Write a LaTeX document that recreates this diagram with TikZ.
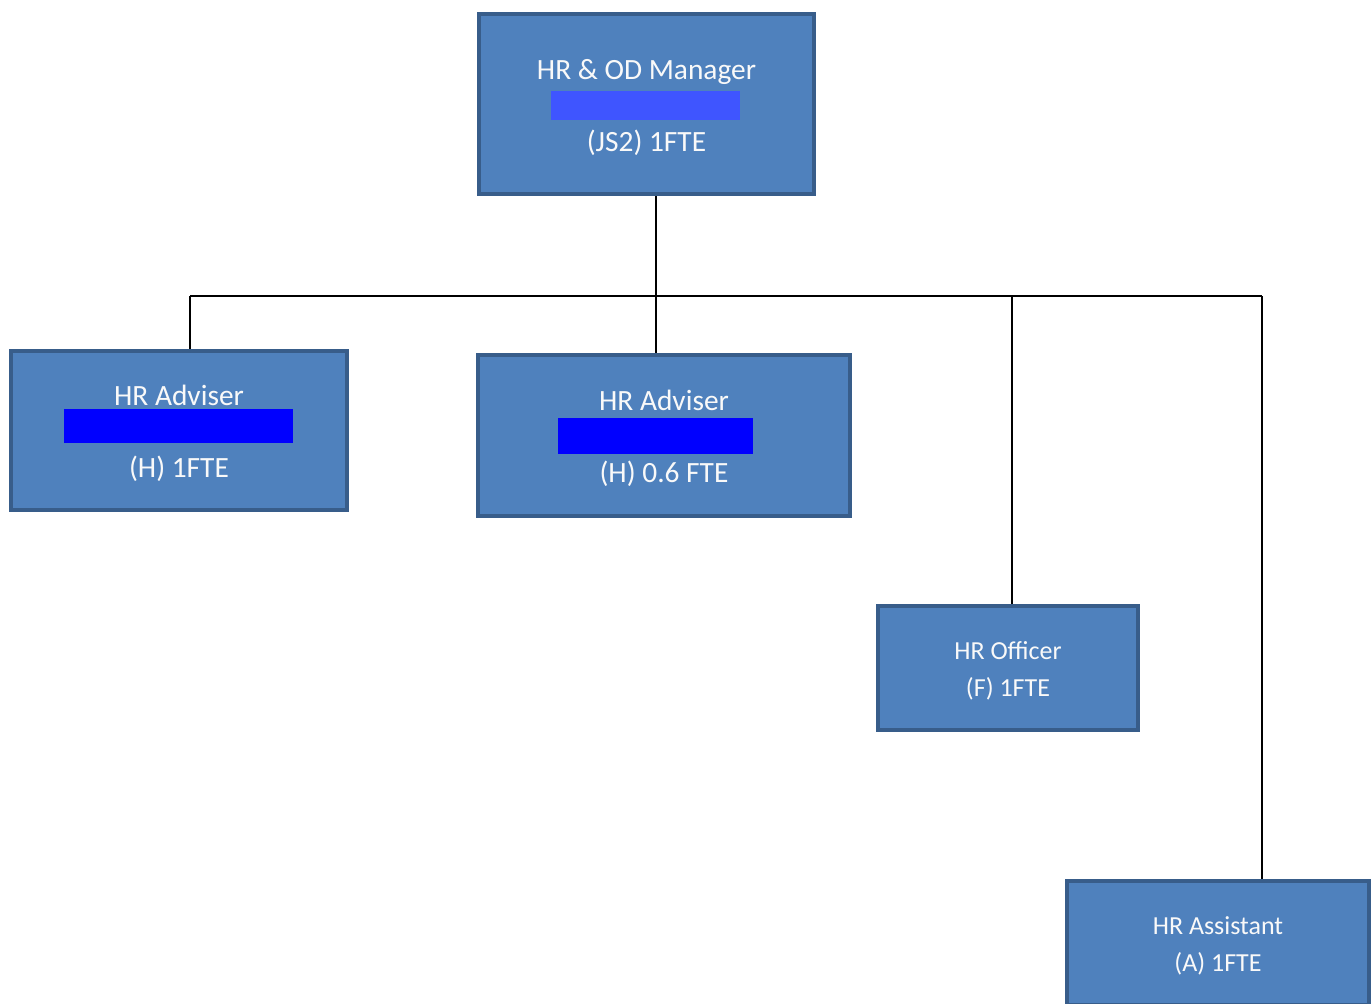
\documentclass[tikz,border=0pt]{standalone}
\usepackage{fontspec}
\setmainfont{Carlito}
\usepackage{xcolor}
\usepackage{tikz}
\usetikzlibrary{positioning,calc}
\definecolor{postfill}{HTML}{4F81BD}
\definecolor{postedge}{HTML}{385D8A}
\definecolor{hidelight}{HTML}{3F55FF}
\definecolor{hidedark}{HTML}{0000FF}
\newcommand{\dropline}{\rule{0pt}{\dimexpr0.72em+2.5pt\relax}}
\tikzset{
  post/.style={draw=postedge, line width=2.2pt, fill=postfill, rectangle, align=center, text=white!95!gray, inner sep=0pt},
  bigpost/.style={post, font=\fontsize{14.7}{18}\selectfont},
  smallpost/.style={post, font=\fontsize{13}{18.5}\selectfont},
  redact/.style={rectangle, inner sep=0pt},
  link/.style={line width=1pt, black}
}
\begin{document}
\begin{tikzpicture}[x=0.5pt,y=-0.5pt]
\useasboundingbox (0,0) rectangle (1371,1003);

\node[bigpost, minimum width=167.5pt, minimum height=90pt] (mgr) at (646.5,104) {\dropline HR \& OD Manager\\[18pt](JS2) 1FTE};
\node[bigpost, minimum width=168pt, minimum height=79.5pt] (adv1) at (179,430.5) {\dropline HR Adviser\\[18pt](H) 1FTE};
\node[bigpost, minimum width=186pt, minimum height=80.5pt] (adv2) at (664,435.5) {\dropline HR Adviser\\[18pt](H) 0.6 FTE};
\node[smallpost, minimum width=130pt, minimum height=62pt] (off) at (1008,668) {\dropline HR Officer\\(F) 1FTE};
\node[smallpost, minimum width=151pt, minimum height=62pt] (asst) at (1218,943) {\dropline HR Assistant\\(A) 1FTE};

% redacted names
\node[redact, fill=hidelight, minimum width=94.5pt, minimum height=14.5pt] (mgrname) at (645.5,105.5) {};
\node[redact, fill=hidedark, minimum width=114.5pt, minimum height=17pt] (adv1name) at (178.5,426) {};
\node[redact, fill=hidedark, minimum width=97.5pt, minimum height=18pt] (adv2name) at (655.5,436) {};

\coordinate (jmgr) at (656,296);
\coordinate (jleft) at (190,296);
\coordinate (joff) at (1012,296);
\coordinate (jright) at (1262,296);

\draw[link] (mgr.south -| jmgr) -- (jmgr);
\draw[link] (jleft) -- (jright);
\draw[link] (jleft) -- (adv1.north -| jleft);
\draw[link] (jmgr) -- (adv2.north -| jmgr);
\draw[link] (joff) -- (off.north -| joff);
\draw[link] (jright) -- (asst.north -| jright);
\end{tikzpicture}
\end{document}
